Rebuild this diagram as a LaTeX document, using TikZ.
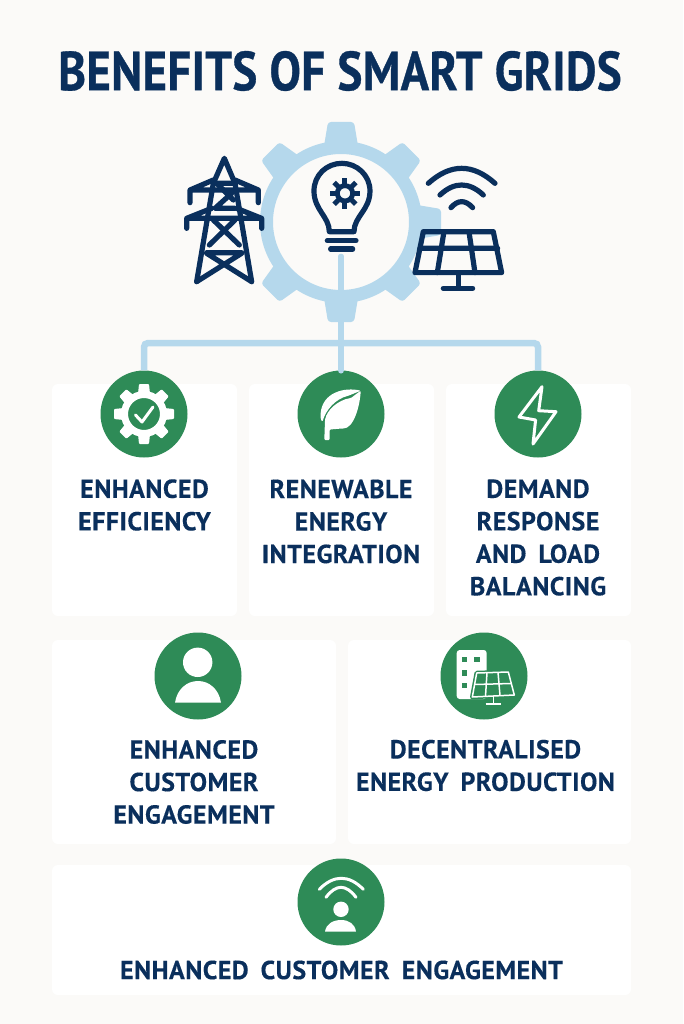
\documentclass[tikz,border=0pt]{standalone}
\usepackage{xcolor}
\usepackage{fontspec}
\setmainfont{PT Sans}
\newfontfamily\headfont[FakeStretch=0.855, FakeBold=0.6, LetterSpace=0.6]{PT Sans Bold}
\newfontfamily\namefont[FakeBold=0.3, LetterSpace=1.8, WordSpace=1.7]{PT Sans Bold}
\definecolor{paper}{HTML}{FBFAF8}
\definecolor{navy}{HTML}{0A2F5C}
\definecolor{leaf}{HTML}{2E8B57}
\definecolor{sky}{HTML}{B5D8EC}
\tikzset{
  card/.style={fill=white, rounded corners=6pt, inner sep=0pt},
  badge/.style={circle, fill=leaf, minimum size=87pt, inner sep=0pt},
  wire/.style={draw=sky, line width=6.5pt},
  label/.style={text=navy, align=center, font=\namefont\fontsize{26}{32.5}\selectfont},
  icon/.style={draw=navy, line width=5.2pt, line cap=round, line join=round},
  spark/.style={draw=white, line width=3pt, line cap=round, line join=round}
}
\begin{document}
\begin{tikzpicture}[x=1pt, y=-1pt]
\fill[paper] (0,0) rectangle (683,1024);
\useasboundingbox (0,0) rectangle (683,1024);
\node[text=navy, font=\headfont\fontsize{55}{60}\selectfont] (title) at (340,71) {BENEFITS OF SMART GRIDS};

% cards
\foreach \n/\cx/\cy/\w/\h in {a/144.5/500/185/232, b/341.5/500/185/232, c/538.5/500/185/232,
    d/194/742/284/204, e/489.5/742/283/204, f/341.5/930/579/130}
\node[card, minimum width=\w pt, minimum height=\h pt] (card\n) at (\cx,\cy) {};

% badges
\foreach \n/\cx/\cy in {gear/144/414, sprout/341/414, bolt/538/414, user/198/676, plant/484/676, link/341/902}
\node[badge] (\n) at (\cx,\cy) {};

% edges
\coordinate (hub) at (341,257);
\coordinate (bus) at (341,343);
\draw[wire, rounded corners=4pt] (gear.north) |- (bus) -| (bolt.north);
\draw[wire, line cap=round] (hub) -- (sprout.north);

% big gear
\draw[sky, line width=13pt] (341,222) circle (74.5);
\foreach \a in {0,45,135,180,225,270,315}
\fill[sky, rounded corners=3pt, shift={(341,222)}, rotate=\a] (-17,-76) -- (-13,-100) -- (13,-100) -- (17,-76) -- cycle;
\draw[wire, line cap=round] (hub) -- (bus);

% tower
\begin{scope}[shift={(180,150)}, x=0.3333pt, y=-0.3333pt]
\draw[icon] (50,395) -- (100,100) -- (133,25) -- (165,100) -- (215,395);
\draw[icon] (30,158) -- (30,120) -- (100,90) (235,158) -- (235,120) -- (165,90) (30,120) -- (235,120);
\draw[icon] (20,235) -- (20,205) -- (95,175) (245,235) -- (245,205) -- (170,175) (20,205) -- (245,205);
\draw[icon] (105,100) -- (160,100) (110,100) -- (160,150) (155,130) -- (105,175) -- (165,175);
\draw[icon] (100,210) -- (178,285) (165,210) -- (88,285);
\draw[icon] (80,308) -- (185,308) (80,310) -- (215,395) (185,310) -- (50,395);
\end{scope}

% bulb
\begin{scope}[shift={(170,110)}, x=0.3333pt, y=-0.3333pt]
\draw[icon] (478,365) -- (552,365) (552,365) .. controls (552,320) and (600,300) .. (600,243)
  .. controls (600,195) and (560,160) .. (516,160) .. controls (470,160) and (432,195) .. (432,243)
  .. controls (432,300) and (478,320) .. (478,365);
\draw[icon] (472,392) -- (558,392) (482,417) -- (548,417);
\draw[navy, line width=4.8pt] (525,250) circle (23);
\foreach \a in {0,45,...,315}
\draw[navy, line width=5pt, shift={(525,250)}, rotate=\a] (0,-28) -- (0,-46);
\end{scope}

% panel and signal
\begin{scope}[shift={(170,110)}, x=0.3333pt, y=-0.3333pt]
\draw[icon] (760,365) -- (970,365) -- (995,488) -- (735,488) -- cycle;
\draw[icon] (750,415) -- (983,415) (822,365) -- (802,488) (897,365) -- (915,488);
\draw[icon] (865,488) -- (865,535) (820,535) -- (908,535);
\draw[icon] (775,220) .. controls (842,160) and (908,160) .. (975,220);
\draw[icon] (810,255) .. controls (853,215) and (897,215) .. (940,255);
\draw[icon] (843,293) .. controls (864,269) and (886,269) .. (908,293);
\end{scope}

% small gear
\draw[white, line width=7pt] (gear) circle (19.5);
\foreach \a in {0,45,...,315}
\fill[white, rounded corners=1pt, shift={(gear)}, rotate=\a] (-6,-20) -- (-5,-30) -- (5,-30) -- (6,-20) -- cycle;
\draw[spark] (135.5,415) -- (142,422) -- (153,407);

% sprout
\fill[white, rounded corners=1pt] (360.7,390.7) .. controls (345,387) and (322,392) .. (320.5,415)
  .. controls (320.5,418) and (321,420) .. (322.4,421.7) .. controls (326,410) and (335,399) .. (349,395.5) -- cycle;
\fill[white, rounded corners=1pt] (360.7,390.7) .. controls (360,405) and (354,429) .. (342,428.5) -- (329.7,429.5)
  -- (329.7,440) -- (324.3,440) -- (325,420) .. controls (327,410) and (338,400) .. (351,398) -- cycle;

% lightning
\draw[spark] (542,386.7) -- (519,417) -- (535.6,420) -- (533,444) -- (556,411.7) -- (538.7,410.7) -- cycle;

% user
\fill[white] (197.7,662.3) circle (14.7);
\fill[white] (175,702.7) .. controls (177,689) and (187,681) .. (198,681) .. controls (209,681) and (219,689) .. (221,702.7) -- cycle;

% building with panel
\fill[white, rounded corners=3pt] (456.7,650) rectangle (486.7,699);
\foreach \wx/\wy in {461.7/656.7, 474/656.7, 461.7/670, 461.7/682.7}
\fill[leaf] (\wx,\wy) rectangle ++(5.5,5.5);
\draw[leaf, line width=4.5pt, fill=leaf, line join=round] (476.7,673) -- (508.3,672) -- (514.3,695) -- (472.3,697) -- cycle;
\draw[white, line width=1.5pt, line join=round] (476.7,673) -- (508.3,672) -- (514.3,695) -- (472.3,697) -- cycle;
\draw[white, line width=1.5pt] (474.5,684.5) -- (511.3,683.5) (487,672.7) -- (485.5,696.3) (498,672.3) -- (500,695.5);
\draw[white, line width=1.5pt] (493.3,696) -- (493.3,704) (485.7,704) -- (501,704);

% wifi user
\fill[white] (341,909.3) circle (7.7);
\fill[white] (325,931.7) .. controls (326,924) and (333,920) .. (341,920) .. controls (349,920) and (355,924) .. (356,931.7) -- cycle;
\draw[spark] (319.3,889.3) .. controls (333.8,874.6) and (348.8,874.6) .. (363.3,889.3);
\draw[spark] (326,897.3) .. controls (336,884) and (346,884) .. (356,897.3);

% labels
\node[label] (effname) at (144.5,505) {ENHANCED\\EFFICIENCY};
\node[label] (renewname) at (341,521.5) {RENEWABLE\\ENERGY\\INTEGRATION};
\node[label] (loadname) at (538,537.5) {DEMAND\\RESPONSE\\AND LOAD\\BALANCING};
\node[label] (custname) at (194,782) {ENHANCED\\CUSTOMER\\ENGAGEMENT};
\node[label] (decname) at (485.5,765.5) {DECENTRALISED\\ENERGY PRODUCTION};
\node[label] (engname) at (341.5,970) {ENHANCED CUSTOMER ENGAGEMENT};
\end{tikzpicture}
\end{document}
